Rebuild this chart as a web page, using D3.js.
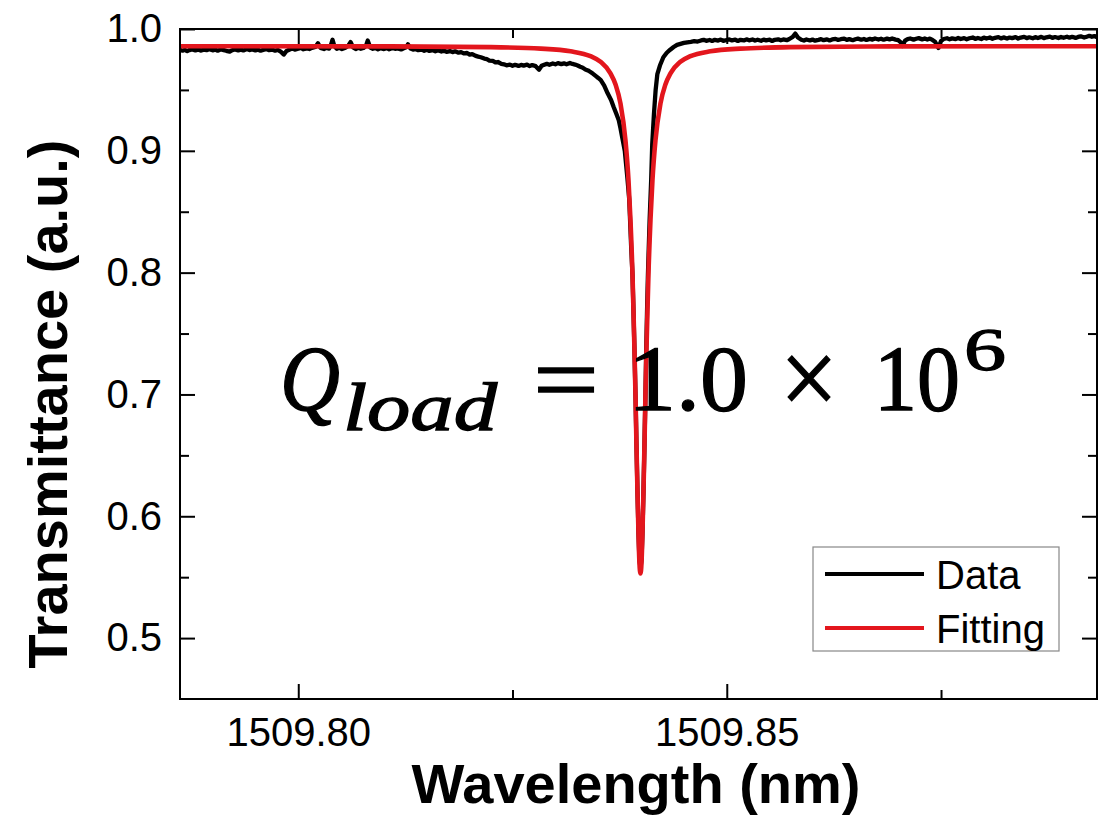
<!DOCTYPE html>
<html>
<head>
<meta charset="utf-8">
<script src="https://cdn.jsdelivr.net/npm/d3@7"></script>
<style>
  html, body { margin: 0; padding: 0; background: #fff; }
  svg { display: block; }
</style>
</head>
<body>
<script>
// Axis ranges and tick positions
const xDomain = [1509.7862, 1509.8932];
const yDomain = [0.45, 1.0];
const xMajorTicks = [1509.80, 1509.85];
const xMinorTicks = [1509.825, 1509.875];
const yMajorTicks = [0.5, 0.6, 0.7, 0.8, 0.9, 1.0];
const yMinorTicks = [0.55, 0.65, 0.75, 0.85, 0.95];

const seriesNames = ["Data", "Fitting"];
const seriesColors = ["#000000", "#e3161d"];

// Measured transmission spectrum: [wavelength (nm), transmittance]
const measured = [
  [1509.7862, 0.9830], [1509.7865, 0.9822], [1509.7868, 0.9829], [1509.7870, 0.9818],
  [1509.7873, 0.9827], [1509.7876, 0.9833], [1509.7880, 0.9825], [1509.7883, 0.9831],
  [1509.7886, 0.9823], [1509.7890, 0.9830], [1509.7893, 0.9826], [1509.7896, 0.9834],
  [1509.7900, 0.9825], [1509.7903, 0.9831], [1509.7906, 0.9822], [1509.7910, 0.9833],
  [1509.7913, 0.9827], [1509.7916, 0.9821], [1509.7920, 0.9814], [1509.7923, 0.9826],
  [1509.7926, 0.9833], [1509.7930, 0.9825], [1509.7933, 0.9831], [1509.7936, 0.9824],
  [1509.7940, 0.9835], [1509.7943, 0.9827], [1509.7946, 0.9832], [1509.7950, 0.9824],
  [1509.7953, 0.9830], [1509.7956, 0.9822], [1509.7960, 0.9831], [1509.7963, 0.9835],
  [1509.7966, 0.9826], [1509.7970, 0.9830], [1509.7973, 0.9822], [1509.7976, 0.9828],
  [1509.7980, 0.9812], [1509.7983, 0.9790], [1509.7986, 0.9818], [1509.7990, 0.9832],
  [1509.7993, 0.9840], [1509.7996, 0.9831], [1509.8000, 0.9838], [1509.8003, 0.9845],
  [1509.8006, 0.9834], [1509.8010, 0.9841], [1509.8013, 0.9836], [1509.8016, 0.9845],
  [1509.8020, 0.9852], [1509.8023, 0.9883], [1509.8026, 0.9845], [1509.8030, 0.9836],
  [1509.8033, 0.9845], [1509.8036, 0.9839], [1509.8038, 0.9866], [1509.8040, 0.9912],
  [1509.8042, 0.9861], [1509.8045, 0.9838], [1509.8048, 0.9846], [1509.8051, 0.9835],
  [1509.8055, 0.9846], [1509.8058, 0.9860], [1509.8061, 0.9893], [1509.8064, 0.9849],
  [1509.8067, 0.9836], [1509.8070, 0.9846], [1509.8073, 0.9838], [1509.8076, 0.9844],
  [1509.8079, 0.9862], [1509.8081, 0.9905], [1509.8084, 0.9848], [1509.8087, 0.9838],
  [1509.8090, 0.9845], [1509.8093, 0.9833], [1509.8096, 0.9842], [1509.8100, 0.9835],
  [1509.8103, 0.9843], [1509.8106, 0.9834], [1509.8110, 0.9845], [1509.8113, 0.9837],
  [1509.8116, 0.9841], [1509.8120, 0.9832], [1509.8123, 0.9842], [1509.8126, 0.9850],
  [1509.8128, 0.9874], [1509.8131, 0.9840], [1509.8134, 0.9831], [1509.8137, 0.9836],
  [1509.8140, 0.9826], [1509.8144, 0.9831], [1509.8147, 0.9821], [1509.8150, 0.9829],
  [1509.8153, 0.9820], [1509.8157, 0.9826], [1509.8160, 0.9817], [1509.8163, 0.9825],
  [1509.8167, 0.9815], [1509.8170, 0.9822], [1509.8173, 0.9813], [1509.8177, 0.9819],
  [1509.8180, 0.9810], [1509.8183, 0.9817], [1509.8187, 0.9806], [1509.8190, 0.9810],
  [1509.8193, 0.9800], [1509.8197, 0.9803], [1509.8200, 0.9790], [1509.8203, 0.9794],
  [1509.8207, 0.9779], [1509.8210, 0.9773], [1509.8213, 0.9768], [1509.8217, 0.9757],
  [1509.8220, 0.9753], [1509.8223, 0.9741], [1509.8227, 0.9738], [1509.8230, 0.9726],
  [1509.8233, 0.9729], [1509.8237, 0.9714], [1509.8240, 0.9710], [1509.8243, 0.9702],
  [1509.8247, 0.9708], [1509.8250, 0.9698], [1509.8253, 0.9706], [1509.8257, 0.9697],
  [1509.8260, 0.9705], [1509.8263, 0.9699], [1509.8267, 0.9707], [1509.8270, 0.9696],
  [1509.8273, 0.9704], [1509.8277, 0.9695], [1509.8281, 0.9666], [1509.8284, 0.9698],
  [1509.8287, 0.9707], [1509.8290, 0.9714], [1509.8293, 0.9706], [1509.8297, 0.9717],
  [1509.8300, 0.9710], [1509.8303, 0.9720], [1509.8307, 0.9712], [1509.8310, 0.9718],
  [1509.8313, 0.9710], [1509.8317, 0.9721], [1509.8320, 0.9713], [1509.8323, 0.9708],
  [1509.8326, 0.9700], [1509.8329, 0.9690], [1509.8332, 0.9682], [1509.8335, 0.9668],
  [1509.8338, 0.9660], [1509.8341, 0.9647], [1509.8344, 0.9632], [1509.8347, 0.9615],
  [1509.8350, 0.9598], [1509.8353, 0.9580], [1509.8357, 0.9535], [1509.8361, 0.9472],
  [1509.8365, 0.9418], [1509.8368, 0.9360], [1509.8371, 0.9306], [1509.8374, 0.9250],
  [1509.8376, 0.9185], [1509.8378, 0.9110], [1509.8381, 0.9000], [1509.8384, 0.8780],
  [1509.83862, 0.8600], [1509.83885, 0.8200], [1509.83900, 0.7982], [1509.83911, 0.7695],
  [1509.83923, 0.7364], [1509.83935, 0.6993], [1509.83946, 0.6596], [1509.83958, 0.6202],
  [1509.83970, 0.5857], [1509.83981, 0.5640], [1509.83993, 0.5580], [1509.84005, 0.5640],
  [1509.84016, 0.5857], [1509.84028, 0.6202], [1509.84040, 0.6596], [1509.84051, 0.6993],
  [1509.84060, 0.7364], [1509.84070, 0.7695], [1509.84080, 0.7982], [1509.84100, 0.8436],
  [1509.84118, 0.8761], [1509.8413, 0.9050], [1509.8415, 0.9300],
  [1509.8417, 0.9500], [1509.8419, 0.9630], [1509.8422, 0.9700], [1509.8426, 0.9768],
  [1509.8430, 0.9805], [1509.8434, 0.9830], [1509.8438, 0.9852], [1509.8442, 0.9870],
  [1509.8446, 0.9878], [1509.8450, 0.9886], [1509.8454, 0.9891], [1509.8458, 0.9895],
  [1509.8462, 0.9900], [1509.8466, 0.9897], [1509.8470, 0.9906], [1509.8473, 0.9911],
  [1509.8476, 0.9903], [1509.8480, 0.9910], [1509.8483, 0.9902], [1509.8486, 0.9911],
  [1509.8490, 0.9905], [1509.8493, 0.9913], [1509.8496, 0.9903], [1509.8500, 0.9910],
  [1509.8503, 0.9915], [1509.8506, 0.9906], [1509.8510, 0.9912], [1509.8513, 0.9902],
  [1509.8516, 0.9911], [1509.8520, 0.9906], [1509.8523, 0.9915], [1509.8526, 0.9907],
  [1509.8530, 0.9914], [1509.8533, 0.9905], [1509.8536, 0.9912], [1509.8540, 0.9903],
  [1509.8543, 0.9913], [1509.8546, 0.9907], [1509.8550, 0.9912], [1509.8553, 0.9902],
  [1509.8556, 0.9911], [1509.8560, 0.9915], [1509.8563, 0.9907], [1509.8566, 0.9914],
  [1509.8570, 0.9908], [1509.8573, 0.9918], [1509.8577, 0.9935], [1509.8580, 0.9962],
  [1509.8583, 0.9930], [1509.8587, 0.9912], [1509.8590, 0.9905], [1509.8593, 0.9914],
  [1509.8597, 0.9906], [1509.8600, 0.9913], [1509.8603, 0.9904], [1509.8607, 0.9911],
  [1509.8610, 0.9917], [1509.8613, 0.9908], [1509.8617, 0.9915], [1509.8620, 0.9906],
  [1509.8623, 0.9914], [1509.8627, 0.9919], [1509.8630, 0.9910], [1509.8633, 0.9916],
  [1509.8637, 0.9921], [1509.8640, 0.9911], [1509.8643, 0.9917], [1509.8647, 0.9908],
  [1509.8650, 0.9916], [1509.8653, 0.9921], [1509.8657, 0.9912], [1509.8660, 0.9918],
  [1509.8663, 0.9910], [1509.8667, 0.9919], [1509.8670, 0.9913], [1509.8673, 0.9922],
  [1509.8677, 0.9914], [1509.8680, 0.9920], [1509.8683, 0.9912], [1509.8687, 0.9921],
  [1509.8690, 0.9915], [1509.8693, 0.9922], [1509.8697, 0.9913], [1509.8700, 0.9908],
  [1509.8703, 0.9890], [1509.8705, 0.9860], [1509.8708, 0.9905], [1509.8711, 0.9917],
  [1509.8714, 0.9922], [1509.8718, 0.9913], [1509.8721, 0.9920], [1509.8724, 0.9925],
  [1509.8728, 0.9915], [1509.8731, 0.9922], [1509.8734, 0.9914], [1509.8737, 0.9921],
  [1509.8740, 0.9910], [1509.8743, 0.9895], [1509.8747, 0.9845], [1509.8750, 0.9902],
  [1509.8753, 0.9918], [1509.8757, 0.9924], [1509.8760, 0.9915], [1509.8763, 0.9923],
  [1509.8767, 0.9917], [1509.8770, 0.9926], [1509.8773, 0.9918], [1509.8777, 0.9925],
  [1509.8780, 0.9916], [1509.8783, 0.9924], [1509.8787, 0.9930], [1509.8790, 0.9919],
  [1509.8793, 0.9926], [1509.8797, 0.9918], [1509.8800, 0.9929], [1509.8803, 0.9922],
  [1509.8807, 0.9930], [1509.8810, 0.9920], [1509.8813, 0.9928], [1509.8817, 0.9933],
  [1509.8820, 0.9923], [1509.8823, 0.9931], [1509.8827, 0.9922], [1509.8830, 0.9930],
  [1509.8833, 0.9925], [1509.8837, 0.9933], [1509.8840, 0.9922], [1509.8843, 0.9930],
  [1509.8847, 0.9936], [1509.8850, 0.9925], [1509.8853, 0.9932], [1509.8857, 0.9924],
  [1509.8860, 0.9933], [1509.8863, 0.9926], [1509.8867, 0.9935], [1509.8870, 0.9925],
  [1509.8873, 0.9932], [1509.8877, 0.9938], [1509.8880, 0.9927], [1509.8883, 0.9934],
  [1509.8887, 0.9926], [1509.8890, 0.9935], [1509.8893, 0.9928], [1509.8897, 0.9937],
  [1509.8900, 0.9929], [1509.8903, 0.9936], [1509.8907, 0.9927], [1509.8910, 0.9935],
  [1509.8913, 0.9940], [1509.8917, 0.9930], [1509.8920, 0.9937], [1509.8923, 0.9944],
  [1509.8926, 0.9936], [1509.8929, 0.9942], [1509.8932, 0.9933]
];

// Fitted resonance curve: [wavelength (nm), transmittance]
const fitted = [
  [1509.7862, 0.9859], [1509.8108, 0.9857], [1509.8224, 0.9851], [1509.8283, 0.9839],
  [1509.83177, 0.9817], [1509.83410, 0.9777], [1509.83527, 0.9731], [1509.83643, 0.9636],
  [1509.83702, 0.9545], [1509.83760, 0.9387], [1509.83818, 0.9086], [1509.83853, 0.8761],
  [1509.83876, 0.8436], [1509.83900, 0.7982], [1509.83911, 0.7695], [1509.83923, 0.7364],
  [1509.83935, 0.6993], [1509.83946, 0.6596], [1509.83958, 0.6202], [1509.83970, 0.5857],
  [1509.83981, 0.5617], [1509.83993, 0.5530], [1509.84005, 0.5617], [1509.84016, 0.5857],
  [1509.84028, 0.6202], [1509.84040, 0.6596], [1509.84051, 0.6993], [1509.84063, 0.7364],
  [1509.84075, 0.7695], [1509.84086, 0.7982], [1509.84110, 0.8436], [1509.84133, 0.8761],
  [1509.84168, 0.9086], [1509.84226, 0.9387], [1509.84284, 0.9545], [1509.84343, 0.9636],
  [1509.84459, 0.9731], [1509.84576, 0.9777], [1509.84809, 0.9817], [1509.85159, 0.9839],
  [1509.85742, 0.9851], [1509.86907, 0.9857], [1509.8932, 0.9859]
];

const W = 1099, H = 816;
const margin = { top: 29, right: 2, bottom: 117, left: 180 };
const plotW = W - margin.left - margin.right;
const plotH = H - margin.top - margin.bottom;

const svg = d3.select("body").append("svg")
  .attr("width", W).attr("height", H)
  .style("background", "#fff");

const x = d3.scaleLinear().domain(xDomain).range([margin.left, margin.left + plotW]);
const y = d3.scaleLinear().domain(yDomain).range([margin.top + plotH, margin.top]);

svg.append("defs").append("clipPath").attr("id", "plot-clip")
  .append("rect")
  .attr("x", margin.left).attr("y", margin.top)
  .attr("width", plotW).attr("height", plotH);

// Curves
const line = d3.line().x(d => x(d[0])).y(d => y(d[1]));
const smoothLine = d3.line().x(d => x(d[0])).y(d => y(d[1])).curve(d3.curveMonotoneX);

const curves = svg.append("g").attr("clip-path", "url(#plot-clip)");
curves.append("path").datum(measured)
  .attr("d", line)
  .attr("fill", "none").attr("stroke", seriesColors[0])
  .attr("stroke-width", 4.3).attr("stroke-linejoin", "round");
curves.append("path").datum(fitted)
  .attr("d", smoothLine)
  .attr("fill", "none").attr("stroke", seriesColors[1])
  .attr("stroke-width", 4.6).attr("stroke-linejoin", "round");

// Axes with inward ticks on all four sides
const MAJOR = 15, MINOR = 9;
function styleAxis(g) {
  g.select(".domain").remove();
  g.selectAll(".tick line").attr("stroke", "#000").attr("stroke-width", 2);
  g.selectAll(".tick text")
    .attr("fill", "#000")
    .style("font-family", "'Liberation Sans', Arial, sans-serif")
    .style("font-size", "40px");
}

svg.append("g").attr("transform", `translate(0,${margin.top + plotH})`)
  .call(d3.axisBottom(x).tickValues(xMajorTicks).tickSize(-MAJOR).tickPadding(19)
    .tickFormat(d3.format(".2f")))
  .call(styleAxis);
svg.append("g").attr("transform", `translate(0,${margin.top + plotH})`)
  .call(d3.axisBottom(x).tickValues(xMinorTicks).tickSize(-MINOR).tickFormat(""))
  .call(styleAxis);
svg.append("g").attr("transform", `translate(0,${margin.top})`)
  .call(d3.axisTop(x).tickValues(xMajorTicks).tickSize(-MAJOR).tickFormat(""))
  .call(styleAxis);
svg.append("g").attr("transform", `translate(0,${margin.top})`)
  .call(d3.axisTop(x).tickValues(xMinorTicks).tickSize(-MINOR).tickFormat(""))
  .call(styleAxis);

svg.append("g").attr("transform", `translate(${margin.left},0)`)
  .call(d3.axisLeft(y).tickValues(yMajorTicks).tickSize(-MAJOR).tickPadding(18)
    .tickFormat(d3.format(".1f")))
  .call(styleAxis);
svg.append("g").attr("transform", `translate(${margin.left},0)`)
  .call(d3.axisLeft(y).tickValues(yMinorTicks).tickSize(-MINOR).tickFormat(""))
  .call(styleAxis);
svg.append("g").attr("transform", `translate(${margin.left + plotW},0)`)
  .call(d3.axisRight(y).tickValues(yMajorTicks).tickSize(-MAJOR).tickFormat(""))
  .call(styleAxis);
svg.append("g").attr("transform", `translate(${margin.left + plotW},0)`)
  .call(d3.axisRight(y).tickValues(yMinorTicks).tickSize(-MINOR).tickFormat(""))
  .call(styleAxis);

// Plot frame
svg.append("rect")
  .attr("x", margin.left).attr("y", margin.top)
  .attr("width", plotW).attr("height", plotH)
  .attr("fill", "none").attr("stroke", "#000").attr("stroke-width", 2);

// Axis titles
svg.append("text")
  .attr("x", 636).attr("y", 803)
  .attr("text-anchor", "middle")
  .style("font-family", "'Liberation Sans', Arial, sans-serif")
  .style("font-weight", "bold").style("font-size", "56px")
  .text("Wavelength (nm)");

svg.append("text")
  .attr("transform", "translate(67,404) rotate(-90)")
  .attr("text-anchor", "middle")
  .style("font-family", "'Liberation Sans', Arial, sans-serif")
  .style("font-weight", "bold").style("font-size", "56px")
  .text("Transmittance (a.u.)");

// Legend
const legend = svg.append("g");
legend.append("rect")
  .attr("x", 813).attr("y", 547).attr("width", 246).attr("height", 104)
  .attr("fill", "#fff").attr("stroke", "#888").attr("stroke-width", 1.2);
const legendRows = [574, 628];
seriesNames.forEach((name, i) => {
  legend.append("line")
    .attr("x1", 825).attr("x2", 924)
    .attr("y1", legendRows[i]).attr("y2", legendRows[i])
    .attr("stroke", seriesColors[i]).attr("stroke-width", 4);
  legend.append("text")
    .attr("x", 936).attr("y", legendRows[i] + 15)
    .style("font-family", "'Liberation Sans', Arial, sans-serif")
    .style("font-size", "40px")
    .attr("fill", "#000")
    .text(name);
});

// Loaded quality factor annotation
const qFont = "'Liberation Serif', 'Times New Roman', serif";
const qa = svg.append("g").attr("fill", "#000")
  .attr("stroke", "#000").attr("stroke-width", 1.3)
  .style("font-family", qFont);
qa.append("text").attr("x", 280).attr("y", 410)
  .style("font-style", "italic").style("font-size", "94px")
  .attr("textLength", 60).attr("lengthAdjust", "spacingAndGlyphs").text("Q");
qa.append("text").attr("x", 343).attr("y", 430)
  .style("font-style", "italic").style("font-size", "68px")
  .attr("textLength", 154).attr("lengthAdjust", "spacingAndGlyphs").text("load");
qa.append("text").attr("x", 533).attr("y", 412)
  .style("font-size", "96px")
  .attr("textLength", 66).attr("lengthAdjust", "spacingAndGlyphs").text("=");
qa.append("text").attr("x", 628).attr("y", 410)
  .style("font-size", "93px")
  .attr("textLength", 120).attr("lengthAdjust", "spacingAndGlyphs").text("1.0");
qa.append("text").attr("x", 780).attr("y", 415)
  .style("font-size", "110px")
  .attr("textLength", 58).attr("lengthAdjust", "spacingAndGlyphs").text("×");
qa.append("text").attr("x", 874).attr("y", 410)
  .style("font-size", "93px")
  .attr("textLength", 86).attr("lengthAdjust", "spacingAndGlyphs").text("10");
qa.append("text").attr("x", 964).attr("y", 370)
  .style("font-size", "62px")
  .attr("textLength", 42).attr("lengthAdjust", "spacingAndGlyphs").text("6");
</script>
</body>
</html>
